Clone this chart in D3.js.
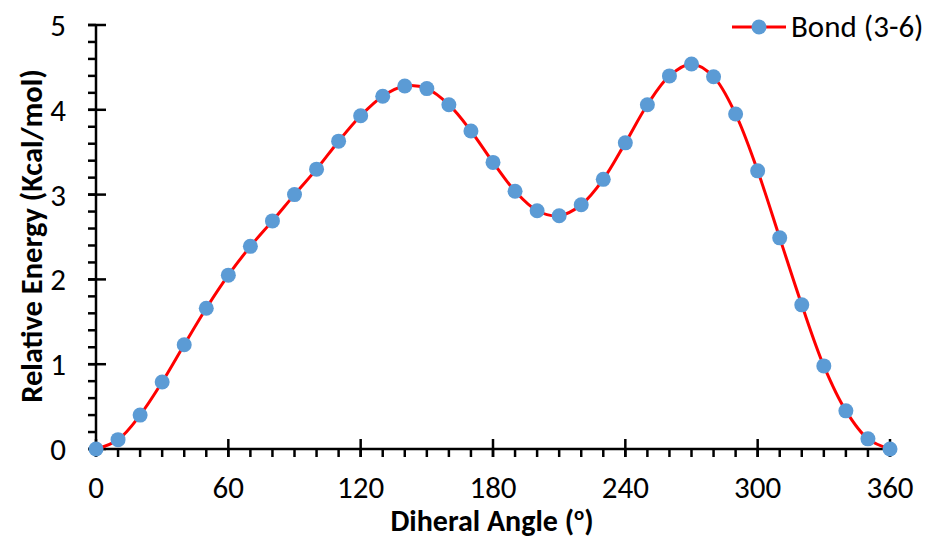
<!DOCTYPE html>
<html>
  <head>
    <script src="https://d3js.org/d3.v7.min.js"></script>
    <style>
      body { margin: 0; background: #fff; }
      text { font-family: Carlito, "Open Sans", "Liberation Sans", sans-serif; }
    </style>
  </head>
  <body>
    <script>
      var width = 930;
      var height = 541;
      var margin = {top: 25, left: 96, right: 40, bottom: 92};

      var angles = [0,10,20,30,40,50,60,70,80,90,100,110,120,130,140,150,160,170,180,
                    190,200,210,220,230,240,250,260,270,280,290,300,310,320,330,340,350,360];
      var energies = [0,0.11,0.40,0.79,1.23,1.66,2.05,2.39,2.69,3.00,3.30,3.63,3.93,4.16,4.28,4.25,4.06,3.75,3.38,
                      3.04,2.81,2.75,2.88,3.18,3.61,4.06,4.40,4.54,4.39,3.95,3.28,2.49,1.70,0.98,0.45,0.12,0];
      var xTicks = [0,60,120,180,240,300,360];
      var yTicks = [0,1,2,3,4,5];
      var seriesName = "Bond (3-6)";

      var data = angles.map(function(a, i) { return {x: a, y: energies[i]}; });

      var svg = d3.select("body")
        .append("svg")
        .attr("width", width)
        .attr("height", height);

      var xScale = d3.scaleLinear()
        .domain([0,360])
        .range([margin.left, 890]);

      var yScale = d3.scaleLinear()
        .domain([0,5])
        .range([height-margin.bottom, margin.top]);

      var y0 = yScale(0);

      // minor ticks
      svg.append("g")
        .selectAll("line")
        .data(d3.range(0, 361, 10))
        .enter()
        .append("line")
          .attr("x1", function(d) { return xScale(d); })
          .attr("x2", function(d) { return xScale(d); })
          .attr("y1", y0)
          .attr("y2", y0 + 8)
          .attr("stroke", "#000")
          .attr("stroke-width", 2.5);

      svg.append("g")
        .selectAll("line")
        .data(d3.range(0, 5.01, 0.2))
        .enter()
        .append("line")
          .attr("x1", xScale(0) - 8)
          .attr("x2", xScale(0))
          .attr("y1", function(d) { return yScale(d); })
          .attr("y2", function(d) { return yScale(d); })
          .attr("stroke", "#000")
          .attr("stroke-width", 2.5);

      // major ticks crossing
      svg.append("g")
        .selectAll("line")
        .data(xTicks)
        .enter()
        .append("line")
          .attr("x1", function(d) { return xScale(d); })
          .attr("x2", function(d) { return xScale(d); })
          .attr("y1", y0 - 10)
          .attr("y2", y0 + 8)
          .attr("stroke", "#000")
          .attr("stroke-width", 2.5);

      svg.append("g")
        .selectAll("line")
        .data(yTicks)
        .enter()
        .append("line")
          .attr("x1", xScale(0) - 8)
          .attr("x2", xScale(0) + 10)
          .attr("y1", function(d) { return yScale(d); })
          .attr("y2", function(d) { return yScale(d); })
          .attr("stroke", "#000")
          .attr("stroke-width", 2.5);

      // axis lines
      svg.append("line")
        .attr("x1", xScale(0)).attr("x2", xScale(360))
        .attr("y1", y0).attr("y2", y0)
        .attr("stroke", "#000").attr("stroke-width", 2.5);
      svg.append("line")
        .attr("x1", xScale(0)).attr("x2", xScale(0))
        .attr("y1", yScale(0)).attr("y2", yScale(5))
        .attr("stroke", "#000").attr("stroke-width", 2.5);

      // tick labels
      svg.append("g")
        .selectAll("text")
        .data(xTicks)
        .enter()
        .append("text")
          .attr("x", function(d) { return xScale(d); })
          .attr("y", 498)
          .attr("text-anchor", "middle")
          .attr("font-size", 31)
          .text(function(d) { return d; });

      svg.append("g")
        .selectAll("text")
        .data(yTicks)
        .enter()
        .append("text")
          .attr("x", 66)
          .attr("y", function(d) { return yScale(d) + 11; })
          .attr("text-anchor", "end")
          .attr("font-size", 31)
          .text(function(d) { return d; });

      // line
      var line = d3.line()
        .x(function(d) { return xScale(d.x); })
        .y(function(d) { return yScale(d.y); })
        .curve(d3.curveCatmullRom);

      svg.append("path")
        .datum(data)
        .attr("d", line)
        .attr("fill", "none")
        .attr("stroke", "#ff0000")
        .attr("stroke-width", 3);

      svg.selectAll("circle.pt")
        .data(data)
        .enter()
        .append("circle")
          .attr("class", "pt")
          .attr("cx", function(d) { return xScale(d.x); })
          .attr("cy", function(d) { return yScale(d.y); })
          .attr("r", 7.5)
          .attr("fill", "#5b9bd5");

      // legend
      svg.append("line")
        .attr("x1", 732).attr("x2", 786)
        .attr("y1", 27).attr("y2", 27)
        .attr("stroke", "#ff0000").attr("stroke-width", 3);
      svg.append("circle")
        .attr("cx", 759).attr("cy", 27).attr("r", 7.5)
        .attr("fill", "#5b9bd5");
      svg.append("text")
        .attr("x", 791).attr("y", 37)
        .attr("font-size", 31)
        .text(seriesName);

      // axis titles
      var xLabel = svg.append("text")
        .attr("x", 492)
        .attr("y", 531)
        .attr("text-anchor", "middle")
        .attr("font-size", 30)
        .attr("font-weight", "bold");
      xLabel.append("tspan").text("Diheral Angle (");
      xLabel.append("tspan").attr("font-size", 19).attr("dy", -11).text("o");
      xLabel.append("tspan").attr("dy", 11).text(")");

      svg.append("text")
        .attr("transform", "translate(42," + 236 + ") rotate(-90)")
        .attr("text-anchor", "middle")
        .attr("font-size", 30.5)
        .attr("font-weight", "bold")
        .text("Relative Energy (Kcal/mol)");
    </script>
  </body>
</html>
